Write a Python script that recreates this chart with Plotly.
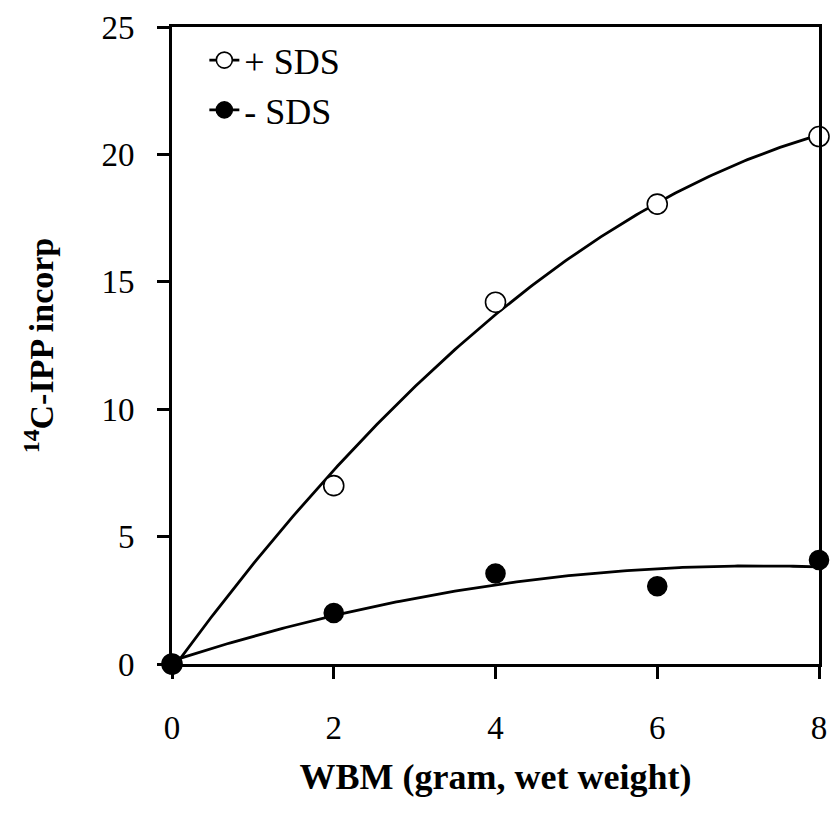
import numpy as np
import plotly.graph_objects as go

x_vals = [0, 2, 4, 6, 8]
plus_sds = [0, 7.0, 14.2, 18.05, 20.7]
minus_sds = [0, 2.0, 3.55, 3.05, 4.08]
x_ticks = [0, 2, 4, 6, 8]
y_ticks = [0, 5, 10, 15, 20, 25]
series_names = ["+ SDS", "- SDS"]

xf = np.linspace(0, 8, 200)
fit_plus = np.polyval(np.polyfit(x_vals, plus_sds, 2), xf)
fit_minus = np.polyval(np.polyfit(x_vals, minus_sds, 2), xf)

font_family = "Liberation Serif"
serif_span = "<span style='font-family:\"Liberation Serif\", serif'>{}</span>"

fig = go.Figure()
line_style = dict(color="black", width=2.8)
fig.add_trace(go.Scatter(x=xf, y=fit_plus, mode="lines", line=line_style, showlegend=False, cliponaxis=False))
fig.add_trace(go.Scatter(x=xf, y=fit_minus, mode="lines", line=line_style, showlegend=False, cliponaxis=False))
fig.add_trace(go.Scatter(x=x_vals, y=plus_sds, mode="markers", showlegend=False, cliponaxis=False,
                         marker=dict(symbol="circle", size=20, color="white", line=dict(color="black", width=1.6))))
fig.add_trace(go.Scatter(x=x_vals, y=minus_sds, mode="markers", showlegend=False, cliponaxis=False,
                         marker=dict(symbol="circle", size=19, color="black", line=dict(color="black", width=1.6))))
# legend entries
fig.add_trace(go.Scatter(x=[None], y=[None], mode="lines+markers", name=serif_span.format(series_names[0]),
                         line=line_style,
                         marker=dict(symbol="circle", size=19, color="white", line=dict(color="black", width=1.6))))
fig.add_trace(go.Scatter(x=[None], y=[None], mode="lines+markers", name=serif_span.format(series_names[1]),
                         line=line_style,
                         marker=dict(symbol="circle", size=18, color="black", line=dict(color="black", width=1.6))))

axis_common = dict(showline=True, linecolor="black", linewidth=3, mirror=True, ticks="outside",
                   ticklen=12, tickwidth=2.5, tickcolor="black", showgrid=False, zeroline=False,
                   tickfont=dict(family=font_family, size=33, color="black"))
fig.update_layout(
    width=837, height=820,
    margin=dict(l=172, r=10, t=21, b=156),
    font=dict(family=font_family, color="black"),
    plot_bgcolor="white", paper_bgcolor="white",
    xaxis=dict(range=[0, 8], tickvals=x_ticks, ticklabelstandoff=20,
               title=dict(text="WBM (gram, wet weight)", standoff=20,
                          font=dict(family=font_family, size=36, color="black", weight="bold")),
               **axis_common),
    yaxis=dict(range=[0, 25], tickvals=y_ticks, ticklabelstandoff=16,
               title=dict(text="<sup>14</sup>C-IPP incorp", standoff=38,
                          font=dict(family=font_family, size=34, color="black", weight="bold")),
               **axis_common),
    legend=dict(x=0.05, y=0.995, xanchor="left", yanchor="top", bgcolor="rgba(0,0,0,0)",
                font=dict(family=font_family, size=36, color="black"), itemwidth=30, tracegroupgap=0),
)
fig.write_html("out.html")
